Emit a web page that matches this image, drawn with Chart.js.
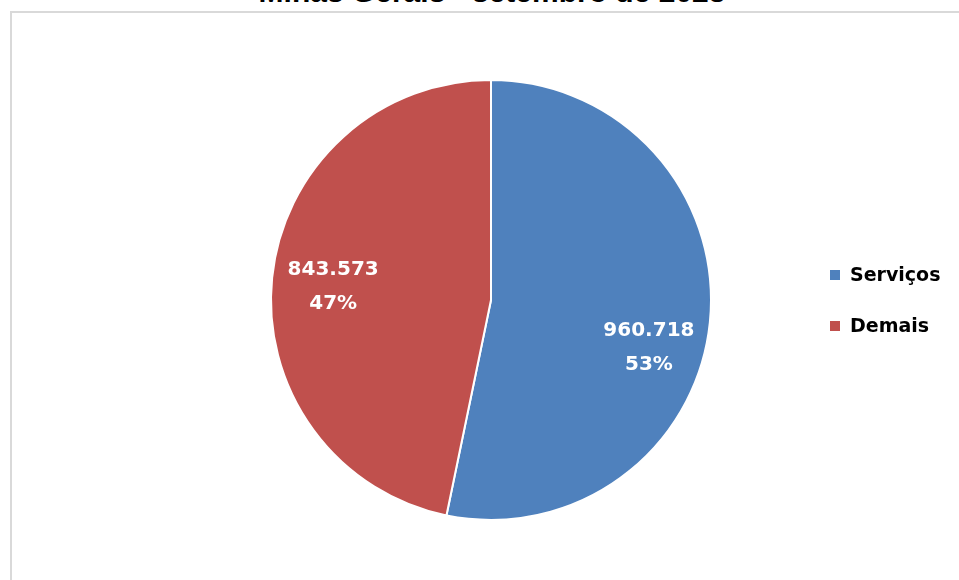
<!DOCTYPE html>
<html>
<head>
<meta charset="utf-8">
<script src="https://cdn.jsdelivr.net/npm/chart.js@4.4.0/dist/chart.umd.min.js"></script>
<style>
  html, body { margin: 0; padding: 0; background: #fff; overflow: hidden; }
  #wrap { position: relative; width: 959px; height: 580px; overflow: hidden; }
  #frame { position: absolute; left: 10px; top: 11px; width: 1000px; height: 600px;
           border-left: 2px solid #D9D9D9; border-top: 2px solid #D9D9D9; }
  #title { position: absolute; left: 0; width: 984px; top: -25px; line-height: 30px;
           text-align: center; font: bold 30px "Liberation Sans", Arial, sans-serif; color: #000; }
  #chart { position: absolute; left: 0; top: 0; }
  #legend { position: absolute; left: 830px; top: 260px; font: bold 19px "DejaVu Sans", sans-serif; }
  #legend div { height: 51px; line-height: 28px; white-space: nowrap; }
  #legend span { display: inline-block; width: 10px; height: 10px; margin-right: 10px; vertical-align: 1px; }
</style>
</head>
<body>
<div id="wrap">
  <div id="frame"></div>
  <div id="title">Minas Gerais - setembro de 2023</div>
  <canvas id="chart" width="959" height="580"></canvas>
  <div id="legend"></div>
</div>
<script>
// dados
const categorias = ['Serviços', 'Demais'];
const valores = [960718, 843573];
const percentuais = ['53%', '47%'];
const cores = ['#4F81BD', '#C0504D'];

// posição dos rótulos (fração do raio e desvio de ângulo em graus)
const labelRadius = [0.75, 0.72];
const labelAngleShift = [11, -1];

function fmt(v) {
  return v.toString().replace(/\B(?=(\d{3})+(?!\d))/g, '.');
}

const rotulos = {
  id: 'rotulos',
  afterDatasetsDraw(chart) {
    const ctx = chart.ctx;
    const meta = chart.getDatasetMeta(0);
    ctx.save();
    ctx.fillStyle = '#fff';
    ctx.font = 'bold 20px "DejaVu Sans", sans-serif';
    ctx.textAlign = 'center';
    ctx.textBaseline = 'middle';
    meta.data.forEach((arc, i) => {
      const mid = (arc.startAngle + arc.endAngle) / 2 + labelAngleShift[i] * Math.PI / 180;
      const r = arc.outerRadius * labelRadius[i];
      const x = arc.x + Math.cos(mid) * r;
      const y = arc.y + Math.sin(mid) * r;
      ctx.fillText(fmt(valores[i]), x, y - 17);
      ctx.fillText(percentuais[i], x, y + 17);
    });
    ctx.restore();
  }
};

const ctxPie = document.getElementById('chart').getContext('2d');
new Chart(ctxPie, {
  type: 'pie',
  data: {
    labels: categorias,
    datasets: [{
      data: valores,
      backgroundColor: cores,
      borderColor: '#fff',
      borderWidth: 2
    }]
  },
  options: {
    responsive: false,
    animation: false,
    layout: { padding: { left: 270, right: 247, top: 78, bottom: 58 } },
    plugins: {
      legend: { display: false },
      tooltip: { enabled: false }
    }
  },
  plugins: [rotulos]
});

// legenda
const legend = document.getElementById('legend');
categorias.forEach((c, i) => {
  const d = document.createElement('div');
  const s = document.createElement('span');
  s.style.background = cores[i];
  d.appendChild(s);
  d.appendChild(document.createTextNode(c));
  legend.appendChild(d);
});
</script>
</body>
</html>
